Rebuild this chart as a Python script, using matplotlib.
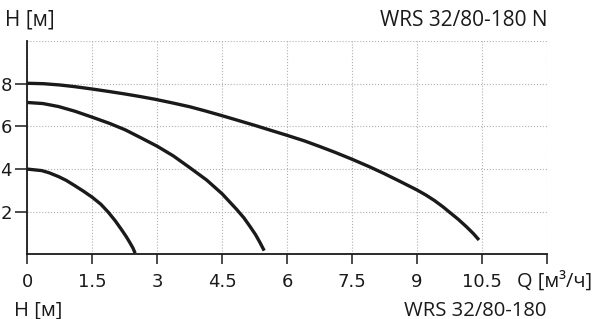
import matplotlib
matplotlib.use("Agg")
import matplotlib.pyplot as plt

# === data ===
q_small = [0, 0.33, 0.5, 0.72, 0.9, 1.10, 1.3, 1.5, 1.7, 1.87, 2.03, 2.18, 2.29, 2.37, 2.44, 2.49]
h_small = [4.0, 3.93, 3.83, 3.65, 3.47, 3.22, 2.96, 2.68, 2.35, 1.98, 1.58, 1.15, 0.82,
           0.55, 0.30, 0.06]

q_mid = [0, 0.36, 0.72, 1.1, 1.5, 1.9, 2.26, 2.60, 3.0, 3.37, 3.75, 4.14, 4.5, 4.83,
         5.0, 5.14, 5.27, 5.37, 5.47]
h_mid = [7.12, 7.07, 6.93, 6.71, 6.43, 6.14, 5.84, 5.49, 5.07, 4.62, 4.07, 3.49, 2.84,
         2.12, 1.72, 1.32, 0.93, 0.57, 0.18]

q_top = [0, 0.37, 0.75, 1.1, 1.5, 1.9, 2.25, 2.6, 2.95, 3.35, 3.75, 4.1, 4.5, 4.9,
         5.25, 5.6, 6.0, 6.4, 6.75, 7.1, 7.5, 7.9, 8.25, 8.6, 9.0, 9.2, 9.4, 9.6,
         9.75, 9.95, 10.14, 10.3, 10.43]
h_top = [8.02, 8.0, 7.94, 7.86, 7.75, 7.63, 7.52, 7.40, 7.27, 7.10, 6.92, 6.73, 6.50,
         6.26, 6.05, 5.83, 5.58, 5.32, 5.06, 4.79, 4.46, 4.11, 3.78, 3.43, 3.02, 2.79,
         2.53, 2.23, 1.98, 1.65, 1.30, 0.98, 0.68]

x_ticks = [0, 1.5, 3, 4.5, 6, 7.5, 9, 10.5, 12]
x_labels = ["0", "1.5", "3", "4.5", "6", "7.5", "9", "10.5", ""]
y_ticks = [2, 4, 6, 8]

# === colours / fonts ===
LINE = "#1a1a1a"
GRID = "#b0b0b0"
TXT = "#1a1a1a"
TICK_FONT = "DejaVu Sans"
TEXT_FONT = "Open Sans"

fig = plt.figure(figsize=(5.95, 3.19), dpi=100)
fig.patch.set_facecolor("white")
ax = fig.add_axes([0.0459, 0.2022, 0.8734, 0.6693])

for q, h in ((q_small, h_small), (q_mid, h_mid), (q_top, h_top)):
    ax.plot(q, h, color=LINE, lw=2.4, solid_capstyle="butt",
            solid_joinstyle="round", zorder=3)

ax.set_xlim(0, 12)
ax.set_ylim(0, 10)
ax.set_xticks(x_ticks)
ax.set_xticklabels(x_labels)
ax.set_yticks(y_ticks)

ax.grid(True, ls=":", color=GRID, lw=0.8)
ax.axhline(10, ls=":", color=GRID, lw=0.8)

for s in ("top", "right"):
    ax.spines[s].set_visible(False)
for s in ("left", "bottom"):
    ax.spines[s].set_linewidth(1.3)
    ax.spines[s].set_color(LINE)

ax.tick_params(axis="y", length=9, width=1.1, pad=2, color=LINE)
ax.tick_params(axis="x", length=7, width=1.1, pad=6, color=LINE)
for lab in ax.get_xticklabels() + ax.get_yticklabels():
    lab.set_fontfamily(TICK_FONT)
    lab.set_fontsize(13)
    lab.set_color(TXT)

# texts (positions in pixels, baseline)
def px_text(x, y, s, size, ha="left"):
    fig.text(x / 595, 1 - y / 319, s, fontsize=size, family=TEXT_FONT,
             color=TXT, va="baseline", ha=ha)

px_text(5, 25.5, "H [м]", 15)
px_text(547, 25.5, "WRS 32/80-180 N", 15, ha="right")
px_text(517, 286.5, "Q [м³/ч]", 14.4)
px_text(14, 315.5, "H [м]", 14.6)
px_text(546, 315.5, "WRS 32/80-180", 14.6, ha="right")

fig.savefig("out.png", dpi=100, facecolor="white")
plt.close(fig)
